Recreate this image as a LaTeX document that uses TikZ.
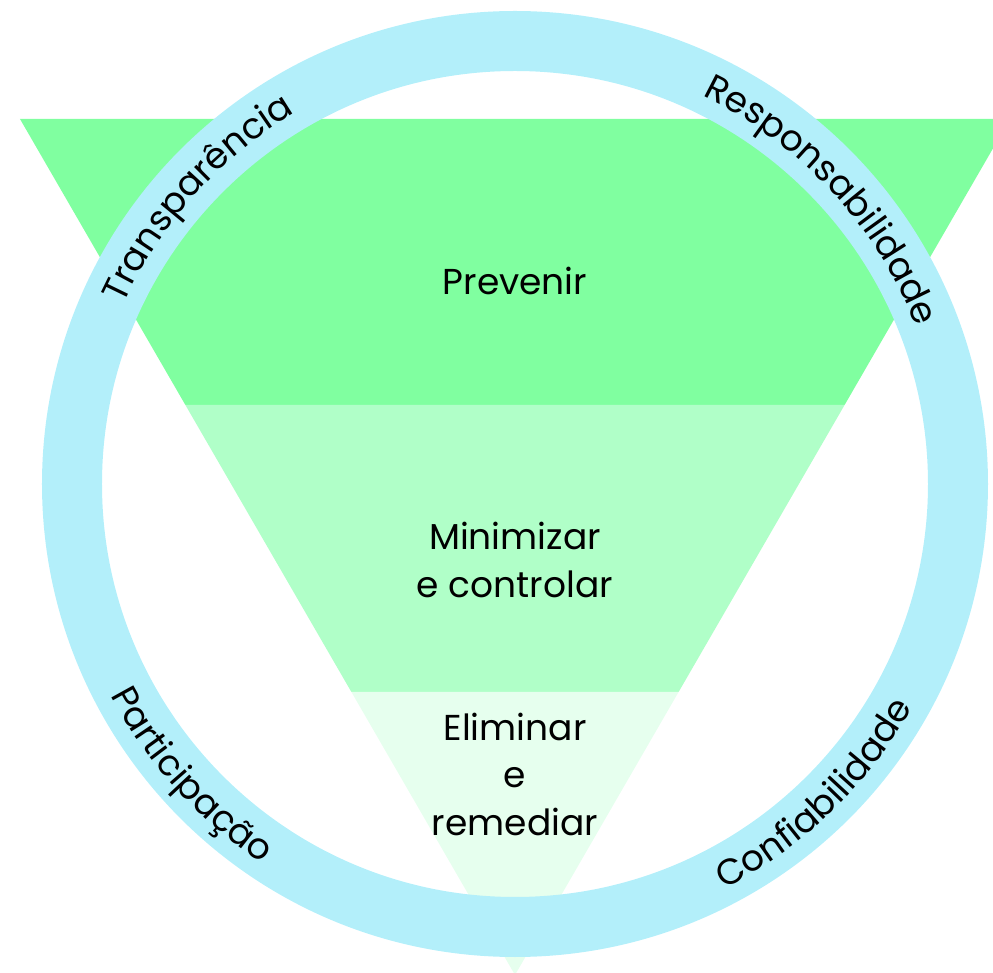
\documentclass[tikz,border=0pt]{standalone}
\usepackage{fontspec}
\setmainfont{Poppins}
\usetikzlibrary{decorations.text}
\definecolor{bandA}{HTML}{80FFA0}
\definecolor{bandB}{HTML}{B0FFC8}
\definecolor{bandC}{HTML}{E6FFEE}
\definecolor{ringblue}{HTML}{B3EFFA}
\newcommand{\lblfont}{\fontsize{36}{47.5}\selectfont}
\tikzset{
  lbl/.style={align=center, font=\lblfont, text=black, inner sep=0pt},
  ringtext/.style={decorate, decoration={text along path, text align=center, text={|\lblfont|#1}}}
}
\begin{document}
\begin{tikzpicture}[x=1pt,y=1pt]
\useasboundingbox (-515,-489) rectangle (478,484);
\clip (-515,-489) rectangle (478,484);
% bands of the inverted triangle
\fill[bandA] (-495,365) -- (495,365) -- (329.6,79) -- (-329.6,79) -- cycle;
\fill[bandB] (-329.6,79) -- (329.6,79) -- (163.6,-208) -- (-163.6,-208) -- cycle;
\fill[bandC] (-163.6,-208) -- (163.6,-208) -- (0,-491) -- cycle;
% ring
\draw[ringblue, line width=60] (0,0) circle (443);
% band labels
\node[lbl] (prev) at (0,203) {Prevenir};
\node[lbl] (mini) at (0,-76) {Minimizar\\e controlar};
\node[lbl] (elim) at (0,-290) {Eliminar\\e\\remediar};
% ring labels
\path[ringtext={Transparência}] (178:431) arc[start angle=178, end angle=98, radius=431];
\path[ringtext={Responsabilidade}] (92.8:431) arc[start angle=92.8, end angle=-7.2, radius=431];
\path[ringtext={Participação}] (182:456) arc[start angle=182, end angle=262, radius=456];
\path[ringtext={Confiabilidade}] (-96:456) arc[start angle=-96, end angle=4, radius=456];
\end{tikzpicture}
\end{document}
